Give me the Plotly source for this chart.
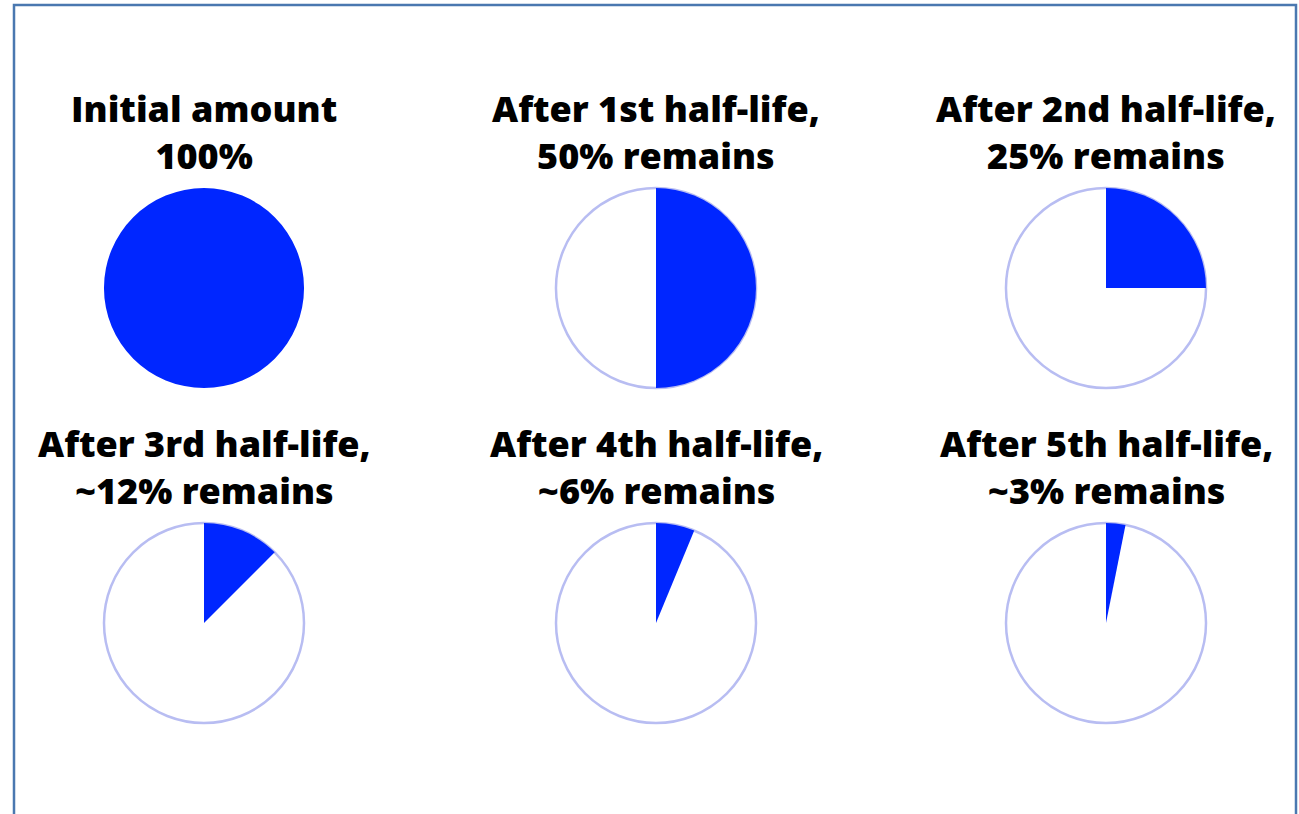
import plotly.graph_objects as go

W, H = 1299, 814

titles = [
    "Initial amount<br>100%",
    "After 1st half-life,<br>50% remains",
    "After 2nd half-life,<br>25% remains",
    "After 3rd half-life,<br>~12% remains",
    "After 4th half-life,<br>~6% remains",
    "After 5th half-life,<br>~3% remains",
]
remaining = [100, 50, 25, 12.5, 6.25, 3.125]

# pixel layout
centers_x = [204, 656, 1106, 204, 656, 1106]
centers_y = [288, 288, 288, 623, 623, 623]
R = 100
title_offset = 156

BLUE = "#0026ff"
OUTLINE = "#b8bdf2"

fig = go.Figure()

for i, (t, r) in enumerate(zip(titles, remaining)):
    cx, cy = centers_x[i], centers_y[i]
    dom_x = [(cx - R) / W, (cx + R) / W]
    dom_y = [(H - cy - R) / H, (H - cy + R) / H]
    if r < 100:
        # outline circle
        fig.add_trace(go.Pie(
            values=[100], labels=["total"], domain=dict(x=dom_x, y=dom_y),
            marker=dict(colors=["white"], line=dict(color=OUTLINE, width=2.5)),
            textinfo="none", hoverinfo="skip", showlegend=False, sort=False,
        ))
    fig.add_trace(go.Pie(
        values=[r, 100 - r], labels=["remaining", "decayed"],
        domain=dict(x=dom_x, y=dom_y),
        marker=dict(colors=[BLUE, "rgba(0,0,0,0)"], line=dict(width=0)),
        direction="clockwise", rotation=0, sort=False,
        textinfo="none", hoverinfo="label+value", showlegend=False,
    ))
    fig.add_annotation(
        x=cx / W, y=(H - cy + title_offset) / H, xref="paper", yref="paper",
        text=t, showarrow=False, xanchor="center", yanchor="middle",
        font=dict(family="Open Sans", size=36, color="black", weight=800),
    )

fig.add_shape(type="rect", xref="paper", yref="paper",
              x0=14 / W, x1=1296 / W, y0=-0.05, y1=(H - 5) / H,
              line=dict(color="#4a78b0", width=2.5))

fig.update_layout(
    width=W, height=H, margin=dict(l=0, r=0, t=0, b=0),
    paper_bgcolor="white", plot_bgcolor="white",
)

fig.write_html("out.html", config={"displayModeBar": False},
               post_script="document.body.style.margin='0';")
